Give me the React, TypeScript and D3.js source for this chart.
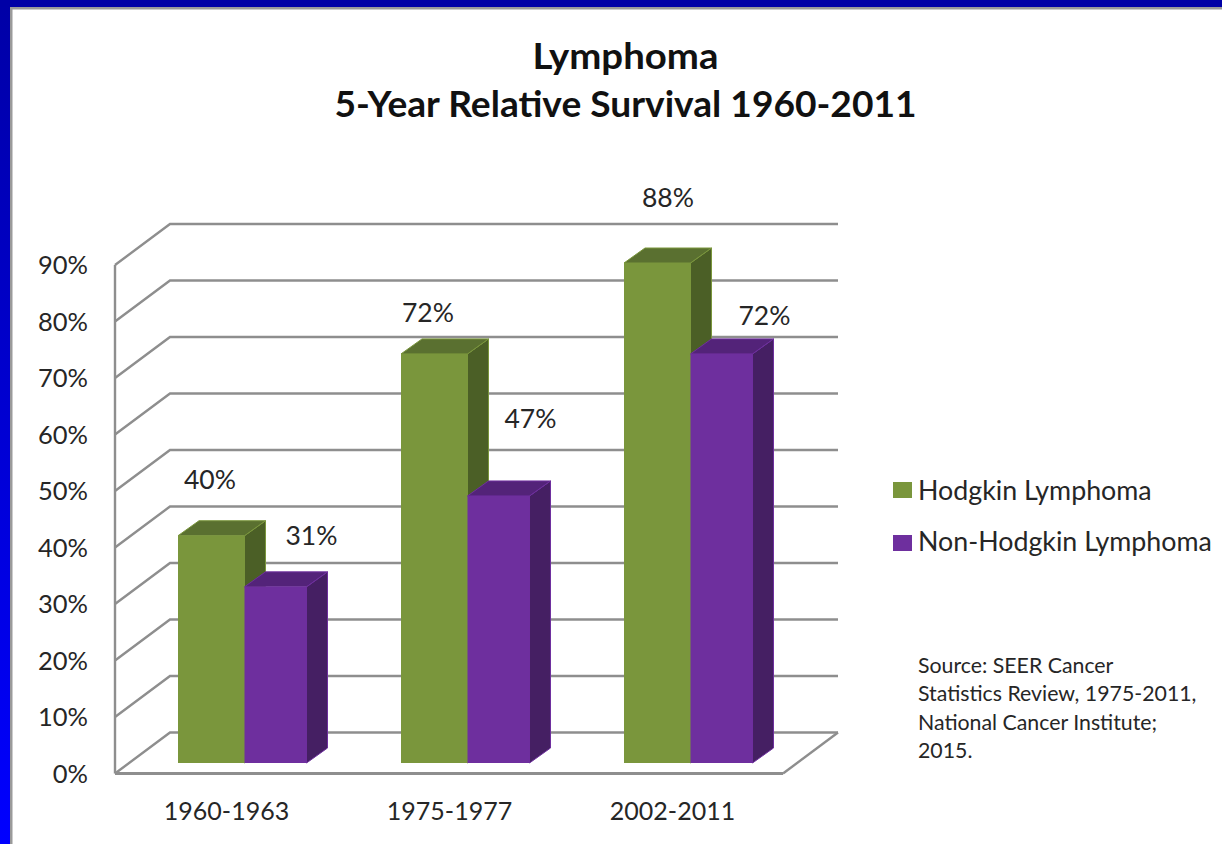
import React from "react";
import * as d3 from "d3";

// Survival percentages by diagnosis period
const periods = ["1960-1963", "1975-1977", "2002-2011"];
const hodgkin = [40, 72, 88];
const nonHodgkin = [31, 47, 72];
const seriesNames = ["Hodgkin Lymphoma", "Non-Hodgkin Lymphoma"];
const yTicks = [0, 10, 20, 30, 40, 50, 60, 70, 80, 90];
const titleLines = ["Lymphoma", "5-Year Relative Survival 1960-2011"];
const titleWidths = [186, 582];
const sourceLines = [
  "Source: SEER Cancer",
  "Statistics Review, 1975-2011,",
  "National Cancer Institute;",
  "2015.",
];

// Hand-placed value labels, as offsets from each bar's left edge and top
const hodgkinLabelOffset = [[32, -47], [27, -32], [44, -56]];
const nonHodgkinLabelOffset = [[67, -42], [63, -68], [74, -29]];

const FONT = "Lato, 'Open Sans', sans-serif";
const INK = "#262626";
const GRID = "#8e8e8e";
const WIDTH = 1222;
const HEIGHT = 844;

// Front plane of the 3D axis; the back wall is shifted by a fixed depth
const frontX = 115;
const floorRight = 783;
const depthX = 55;
const depthY = -41;
const yAxis = d3.scaleLinear().domain([0, 90]).range([773.5, 265]);

// Bars stand slightly inside the floor, with their own vertical scale
const yBar = d3.scaleLinear().domain([0, 88]).range([763, 263]);
const xGroup = d3.scaleBand().domain(periods).range([178, 847]).paddingInner(0).paddingOuter(0);
const greenWidth = 66.5;
const purpleWidth = 62;
const barDx = 21;
const barDy = -15;

const pts = (p: number[][]) => p.map((q) => q.join(",")).join(" ");

function Bar({ x, width, top, colors }: { x: number; width: number; top: number; colors: string[] }) {
  const base = yBar(0);
  return (
    <g>
      <polygon
        points={pts([[x + width, top], [x + width + barDx, top + barDy], [x + width + barDx, base + barDy], [x + width, base]])}
        fill={colors[2]}
        stroke={colors[0]}
        strokeWidth={1}
      />
      <polygon
        points={pts([[x, top], [x + barDx, top + barDy], [x + width + barDx, top + barDy], [x + width, top]])}
        fill={colors[1]}
        stroke={colors[0]}
        strokeWidth={1}
      />
      <rect x={x} y={top} width={width} height={base - top} fill={colors[0]} />
    </g>
  );
}

const greenShades = ["#7a963c", "#5a7030", "#4b5f26"];
const purpleShades = ["#6e2f9e", "#532379", "#451f63"];

export default function App() {
  return (
    <svg
      width={WIDTH}
      height={HEIGHT}
      viewBox={`0 0 ${WIDTH} ${HEIGHT}`}
      style={{ position: "absolute", left: 0, top: 0, display: "block", fontFamily: FONT }}
    >
      <defs>
        <linearGradient id="frame" x1="0" y1="0" x2="0" y2="1">
          <stop offset="0" stopColor="#0000a6" />
          <stop offset="1" stopColor="#0000ff" />
        </linearGradient>
      </defs>
      <rect width={WIDTH} height={HEIGHT} fill="#ffffff" />
      <rect width={10} height={HEIGHT} fill="url(#frame)" />
      <rect width={WIDTH} height={7} fill="#0000a6" />
      <rect x={10} y={7} width={WIDTH - 10} height={2.5} fill="#9a9a9a" />
      <rect x={10} y={7} width={2.5} height={HEIGHT - 7} fill="#9a9a9a" />

      {titleLines.map((t, i) => (
        <text
          key={t}
          x={625.5}
          y={69 + i * 48}
          textAnchor="middle"
          fontSize={37}
          fontWeight={700}
          fill="#111111"
          textLength={titleWidths[i]}
          lengthAdjust="spacingAndGlyphs"
        >
          {t}
        </text>
      ))}

      {/* Back wall grid and its connections to the front axis */}
      <g stroke={GRID} strokeWidth={2.4} fill="none">
        {yTicks.map((t) => (
          <polyline
            key={t}
            points={pts([[frontX, yAxis(t)], [frontX + depthX, yAxis(t) + depthY], [838, yAxis(t) + depthY]])}
          />
        ))}
        <line x1={frontX} x2={frontX} y1={yAxis(90)} y2={yAxis(0)} />
        <line x1={frontX} x2={floorRight} y1={yAxis(0)} y2={yAxis(0)} strokeWidth={3} />
        <line x1={floorRight} x2={floorRight + depthX} y1={yAxis(0)} y2={yAxis(0) + depthY} />
      </g>

      {yTicks.map((t) => (
        <text key={t} x={88} y={yAxis(t) + 9} textAnchor="end" fontSize={25.5} fill={INK}>
          {`${t}%`}
        </text>
      ))}

      {periods.map((p, i) => {
        const x = xGroup(p) as number;
        const gTop = yBar(hodgkin[i]);
        const pTop = yBar(nonHodgkin[i]);
        return (
          <g key={p}>
            <Bar x={x} width={greenWidth} top={gTop} colors={greenShades} />
            <Bar x={x + greenWidth} width={purpleWidth} top={pTop} colors={purpleShades} />
            <text x={x + hodgkinLabelOffset[i][0]} y={gTop + hodgkinLabelOffset[i][1]} textAnchor="middle" fontSize={26.5} fill={INK}>
              {`${hodgkin[i]}%`}
            </text>
            <text x={x + nonHodgkinLabelOffset[i][0] + greenWidth} y={pTop + nonHodgkinLabelOffset[i][1]} textAnchor="middle" fontSize={26.5} fill={INK}>
              {`${nonHodgkin[i]}%`}
            </text>
            <text x={x + 48.5} y={820} textAnchor="middle" fontSize={25} fill={INK}>
              {p}
            </text>
          </g>
        );
      })}

      {seriesNames.map((name, i) => (
        <g key={name}>
          <rect x={893} y={482 + i * 53} width={19} height={16} fill={i === 0 ? greenShades[0] : purpleShades[0]} />
          <text x={918} y={500 + i * 51} fontSize={26.8} fill={INK}>
            {name}
          </text>
        </g>
      ))}

      {sourceLines.map((line, i) => (
        <text key={line} x={918} y={673 + i * 28.3} fontSize={21.3} fill={INK}>
          {line}
        </text>
      ))}
    </svg>
  );
}
